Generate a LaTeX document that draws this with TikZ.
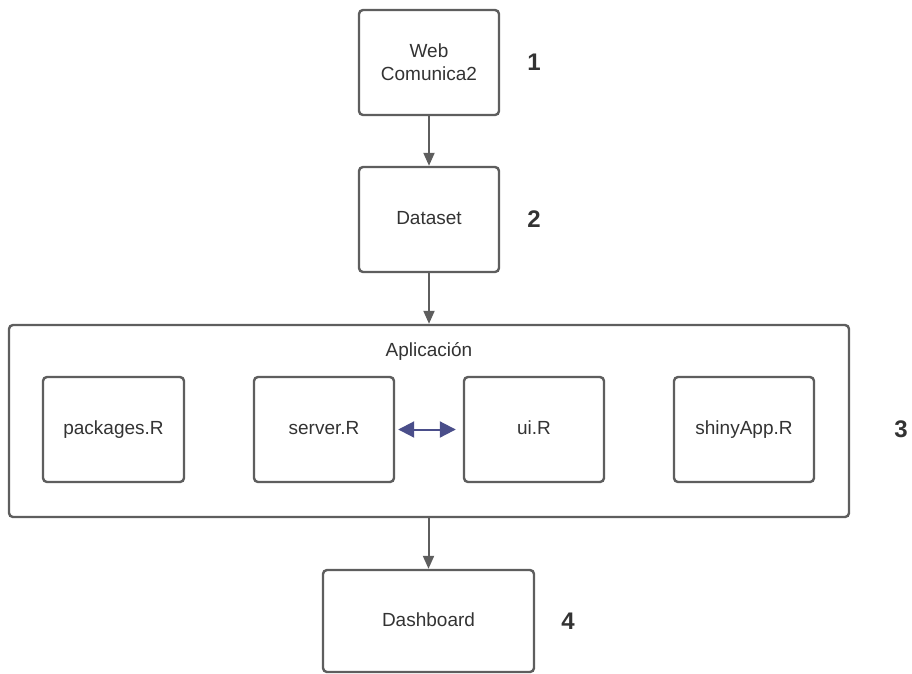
\documentclass[tikz,border=0pt]{standalone}
\usepackage{fontspec}
\setmainfont{Liberation Sans}
\usetikzlibrary{arrows.meta}
\definecolor{linegray}{HTML}{5E5E5E}
\definecolor{textgray}{HTML}{333333}
\definecolor{arrowblue}{HTML}{4A4E8A}
\begin{document}
\begin{tikzpicture}[x=1pt,y=-1pt,
  box/.style={draw=linegray,line width=2.4pt,rounded corners=4pt,fill=white,inner sep=0pt,text=textgray,font=\fontsize{19}{23}\selectfont,align=center,text height=14pt,text depth=4pt},
  num/.style={text=textgray,font=\fontsize{24}{28}\selectfont\bfseries},
  conn/.style={draw=linegray,line width=2pt,-{Triangle[length=13pt,width=11pt]}},
  lbl/.style={text=textgray,font=\fontsize{19}{23}\selectfont}]
\useasboundingbox (0,0) rectangle (912,673);
\node[box,minimum width=140pt,minimum height=105pt,text height=,text depth=] (web) at (429,62.5) {Web\\Comunica2};
\node[num] (n1) at (534,62) {1};
\node[box,minimum width=140pt,minimum height=105pt] (data) at (429,219.5) {Dataset};
\node[num] (n2) at (534,219) {2};
\node[box,minimum width=840pt,minimum height=192pt] (app) at (429,421) {};
\node[lbl] (applbl) at (429,351) {Aplicación};
\node[box,minimum width=141pt,minimum height=105pt] (pkg) at (113.5,429.5) {packages.R};
\node[box,minimum width=140pt,minimum height=105pt] (srv) at (324,429.5) {server.R};
\node[box,minimum width=140pt,minimum height=105pt] (ui) at (534,429.5) {ui.R};
\node[box,minimum width=140pt,minimum height=105pt] (shiny) at (744,429.5) {shinyApp.R};
\node[num] (n3) at (901,429) {3};
\node[box,minimum width=211pt,minimum height=102pt] (dash) at (428.5,621) {Dashboard};
\node[num] (n4) at (568,621) {4};
\draw[conn] (web) -- (data);
\draw[conn] (data) -- (app.north -| data.south);
\draw[conn] (app.south -| dash.north) -- (dash);
\draw[draw=arrowblue,line width=2pt,{Triangle[length=16pt,width=16pt]}-{Triangle[length=16pt,width=16pt]}] ([xshift=3pt]srv.east) -- ([xshift=-7pt]ui.west);
\end{tikzpicture}
\end{document}
